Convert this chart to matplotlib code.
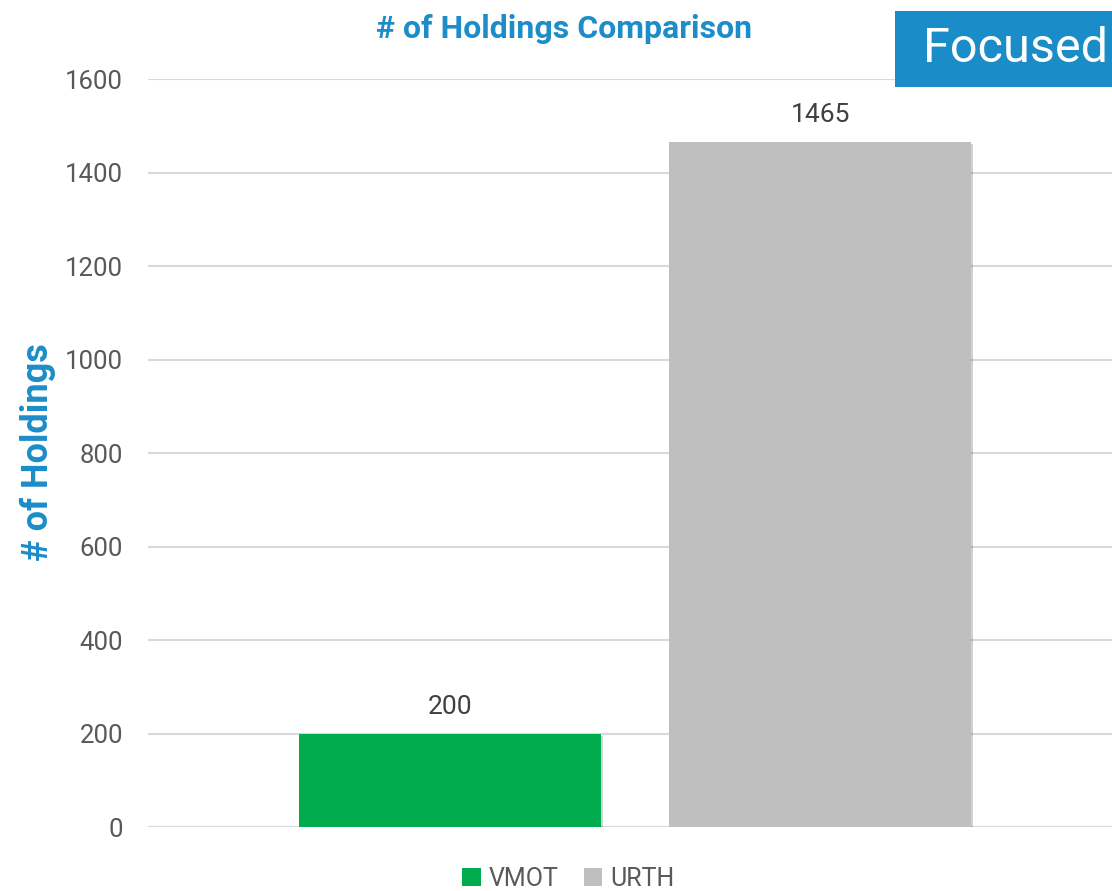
import matplotlib
matplotlib.use("Agg")
import matplotlib.pyplot as plt
import matplotlib.patheffects as pe
from matplotlib.patches import Patch, Rectangle

plt.rcParams['font.family'] = ['Roboto', 'DejaVu Sans']

# data
tickers = ["VMOT", "URTH"]
holdings = [200, 1465]
bar_colors = ["#00AC4E", "#BFBFBF"]
y_ticks = [0, 200, 400, 600, 800, 1000, 1200, 1400, 1600]

blue = "#1C8DC9"
text_gray = "#595959"

fig = plt.figure(figsize=(11.12, 8.91), dpi=100)
ax = fig.add_axes([0.1331, 0.0718, 0.876, 0.8395])

offsets = [-0.19, 0.19]
bar_w = 0.31
shadow = [pe.SimplePatchShadow(offset=(1.5, -1.5), shadow_rgbFace="#000000", alpha=0.18), pe.Normal()]
for name, val, col, off in zip(tickers, holdings, bar_colors, offsets):
    b = ax.bar(off, val, width=bar_w, color=col, zorder=3, label=name)
    b[0].set_path_effects(shadow)
    ax.text(off, val + 32, str(val), ha='center', va='bottom', fontsize=19, color="#404040")

ax.set_xlim(-0.5, 0.5)
ax.set_ylim(0, 1600)
ax.set_yticks(y_ticks)
ax.set_xticks([])
ax.tick_params(axis='y', length=0, labelsize=18.5, labelcolor=text_gray, pad=18)
ax.grid(axis='y', color="#D9D9D9", linewidth=1.5, zorder=0)
for s in ax.spines.values():
    s.set_visible(False)

fig.text(0.034, 0.493, "# of Holdings", rotation=90, ha='center', va='center',
         fontsize=26, fontweight='bold', color=blue)
fig.text(0.507, 0.968, "# of Holdings Comparison", ha='center', va='center',
         fontsize=23, fontweight='bold', color=blue)

# "Focused" tag in the corner
fig.patches.append(Rectangle((0.805, 0.9024), 0.195, 0.0853, transform=fig.transFigure,
                             facecolor="#1A8CC8", edgecolor='none', zorder=5))
fig.text(0.9128, 0.945, "Focused", ha='center', va='center', fontsize=35, color='white', zorder=6)

handles = [Patch(facecolor=c, label=t) for t, c in zip(tickers, bar_colors)]
fig.legend(handles=handles, loc='center', bbox_to_anchor=(0.511, 0.0135), ncol=2, frameon=False,
           fontsize=18, labelcolor=text_gray, handlelength=0.75, handleheight=0.75,
           handletextpad=0.3, columnspacing=1.0)

fig.savefig("out.png", dpi=100)
